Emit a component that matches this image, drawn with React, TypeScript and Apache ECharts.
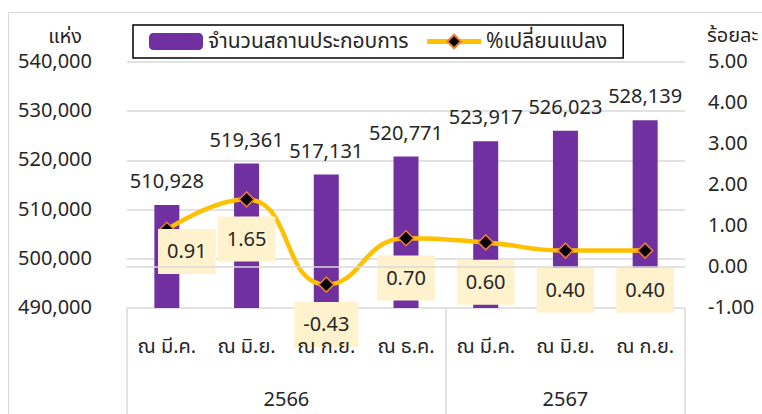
import React, { useEffect, useRef } from "react";
import * as echarts from "echarts";

const months = ["ณ มี.ค.", "ณ มิ.ย.", "ณ ก.ย.", "ณ ธ.ค.", "ณ มี.ค.", "ณ มิ.ย.", "ณ ก.ย."];
const establishments = [510928, 519361, 517131, 520771, 523917, 526023, 528139];
const pctChange = [0.91, 1.65, -0.43, 0.7, 0.6, 0.4, 0.4];
const years = ["2566", "2567"];
const yearSpans = [4, 3];
const barName = "จำนวนสถานประกอบการ";
const lineName = "%เปลี่ยนแปลง";
const leftUnit = "แห่ง";
const rightUnit = "ร้อยละ";

const FONT = "'Noto Sans Thai', 'Noto Sans', Tahoma, sans-serif";
const TXT = "#262626";
const FS = 20;

export default function App() {
  const ref = useRef<HTMLDivElement>(null);
  useEffect(() => {
    const chart = echarts.init(ref.current!, null, { renderer: "svg" });
    const bounds: number[] = [0];
    const centers: number[] = [];
    let acc = 0;
    yearSpans.forEach((s) => {
      centers.push(acc + s / 2);
      acc += s;
      bounds.push(acc);
    });
    const fmtInt = (v: number) => v.toLocaleString("en-US");
    chart.setOption({
      animation: false,
      textStyle: { fontFamily: FONT, color: TXT },
      graphic: [
        {
          type: "rect",
          shape: { x: 8.5, y: 12.5, width: 800, height: 450 },
          style: { fill: "none", stroke: "#d9d9d9", lineWidth: 1 },
          silent: true,
        },
      ],
      legend: {
        left: 133,
        top: 25,
        padding: [6, 16, 6, 16],
        itemGap: 16,
        itemWidth: 54,
        itemHeight: 17,
        borderColor: "#000",
        borderWidth: 1.5,
        backgroundColor: "#fff",
        lineStyle: { width: 5 },
        textStyle: { fontSize: 21, color: TXT, fontFamily: FONT },
        data: [barName, lineName],
      },
      grid: { left: 127, right: 77, top: 62, bottom: 106 },
      xAxis: [
        {
          type: "category",
          data: months,
          position: "bottom",
          z: 10,
          axisLine: { lineStyle: { color: "#d9d9d9", width: 1.5 } },
          axisTick: { show: false },
          axisLabel: { fontSize: FS, color: TXT, margin: 29, fontFamily: FONT },
        },
        {
          type: "value",
          min: 0,
          max: acc,
          position: "bottom",
          axisLine: { show: false },
          splitLine: { show: false },
          axisTick: {
            show: true,
            customValues: bounds,
            length: 120,
            lineStyle: { color: "#d9d9d9", width: 1.5 },
          },
          axisLabel: {
            customValues: centers,
            formatter: (v: number) => years[centers.indexOf(v)] ?? "",
            fontSize: FS,
            color: TXT,
            margin: 82,
            fontFamily: FONT,
          },
        },
      ],
      yAxis: [
        {
          type: "value",
          min: 490000,
          max: 540000,
          interval: 10000,
          name: leftUnit,
          nameLocation: "end",
          nameGap: 15,
          nameTextStyle: { fontSize: FS, color: TXT, align: "right", padding: [0, 45, 0, 0], fontFamily: FONT },
          axisLine: { show: false },
          axisTick: { show: false },
          splitLine: { lineStyle: { color: "#d9d9d9", width: 1.5 } },
          axisLabel: { fontSize: FS, color: TXT, margin: 35, formatter: fmtInt, fontFamily: FONT },
        },
        {
          type: "value",
          min: -1,
          max: 5,
          interval: 1,
          position: "right",
          name: rightUnit,
          nameLocation: "end",
          nameGap: 16,
          nameTextStyle: { fontSize: FS, color: TXT, align: "left", padding: [0, 0, 0, 22], fontFamily: FONT },
          axisLine: { show: false },
          axisTick: { show: false },
          splitLine: { show: false },
          axisLabel: { fontSize: FS, color: TXT, margin: 23, formatter: (v: number) => v.toFixed(2), fontFamily: FONT },
        },
      ],
      series: [
        {
          name: barName,
          type: "bar",
          xAxisIndex: 0,
          yAxisIndex: 0,
          data: establishments,
          barWidth: 25,
          itemStyle: { color: "#7030A0" },
          label: {
            show: true,
            position: "top",
            distance: 13,
            fontSize: FS,
            color: TXT,
            fontFamily: FONT,
            formatter: (p: any) => fmtInt(p.value),
          },
          z: 2,
        },
        {
          name: lineName,
          type: "line",
          xAxisIndex: 0,
          yAxisIndex: 1,
          data: pctChange.map((v, i) => (i === 0 ? { value: v, label: { offset: [20, -18] } } : v)),
          smooth: 0.5,
          symbol: "diamond",
          symbolSize: 15,
          lineStyle: { color: "#FFC000", width: 4.5 },
          itemStyle: { color: "#000", borderColor: "#ED7D31", borderWidth: 1.5 },
          label: {
            show: true,
            position: "bottom",
            distance: 9,
            fontSize: FS,
            lineHeight: 22,
            color: TXT,
            fontFamily: FONT,
            backgroundColor: "#FFF2CC",
            padding: [12, 9, 11, 9],
            formatter: (p: any) => Number(p.value).toFixed(2),
          },
          z: 3,
        },
      ],
    });
    return () => chart.dispose();
  }, []);
  return (
    <div
      ref={ref}
      style={{ position: "fixed", left: 0, top: 0, width: 762, height: 414, background: "#fff" }}
    />
  );
}
